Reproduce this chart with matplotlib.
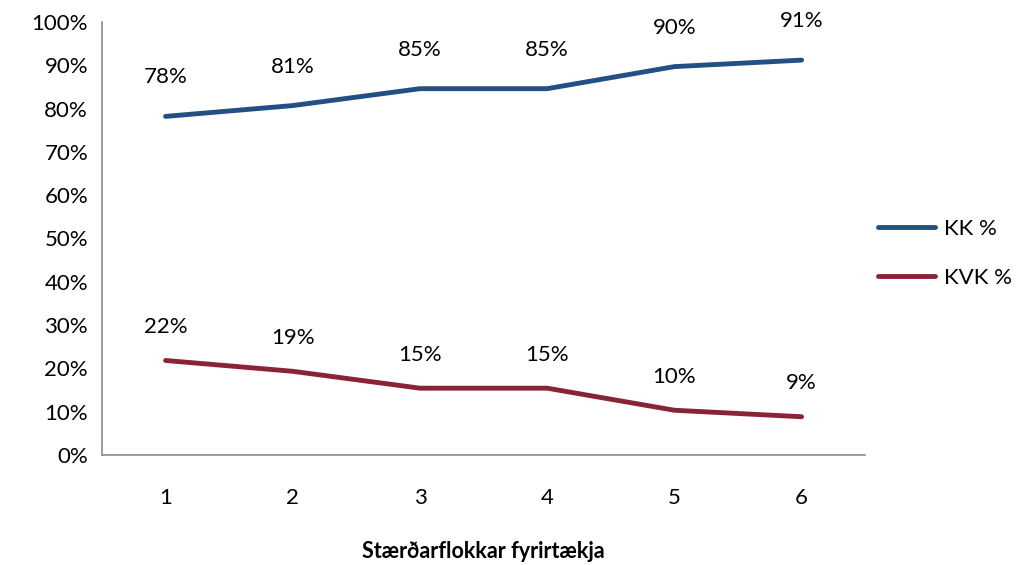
import matplotlib
matplotlib.use("Agg")
import matplotlib.pyplot as plt
from matplotlib.ticker import FuncFormatter

plt.rcParams['font.family'] = ['Lato', 'DejaVu Sans']

categories = ["1", "2", "3", "4", "5", "6"]
kk = [78.2, 80.7, 84.6, 84.6, 89.7, 91.2]
kvk = [21.8, 19.3, 15.4, 15.4, 10.3, 8.8]
series_names = ["KK %", "KVK %"]
colors = ["#234F85", "#8B2336"]

fig = plt.figure(figsize=(10.3, 5.65), dpi=100)
ax = fig.add_axes([0.099, 0.195, 0.741, 0.766])
x = list(range(1, len(categories) + 1))

for vals, name, c in zip([kk, kvk], series_names, colors):
    ax.plot(x, vals, color=c, lw=3.5, label=name, solid_capstyle='round')
    for xi, v in zip(x, vals):
        ax.annotate(f"{round(v):d}%", (xi, v), xytext=(0, 28 if name == "KK %" else 24),
                    textcoords='offset points', ha='center', va='center', fontsize=16)

ax.set_xlim(0.5, 6.5)
ax.set_ylim(0, 100)
ax.set_yticks(range(0, 101, 10))
ax.yaxis.set_major_formatter(FuncFormatter(lambda v, p: f"{int(v)}%"))
ax.set_xticks(x)
ax.set_xticklabels(categories)
ax.tick_params(axis='both', length=0, labelsize=16)
ax.tick_params(axis='x', pad=24)
ax.tick_params(axis='y', pad=10)
for s in ['top', 'right']:
    ax.spines[s].set_visible(False)
for s in ['left', 'bottom']:
    ax.spines[s].set_color('#8C8C8C')
    ax.spines[s].set_linewidth(1.2)
ax.set_xlabel("Stærðarflokkar fyrirtækja", fontsize=15.5, fontweight='bold', labelpad=24)

ax.legend(loc='center left', bbox_to_anchor=(0.99, 0.465), frameon=False, fontsize=16,
          handlelength=2.6, handletextpad=0.4, labelspacing=1.3)

fig.savefig("out.png", dpi=100)
